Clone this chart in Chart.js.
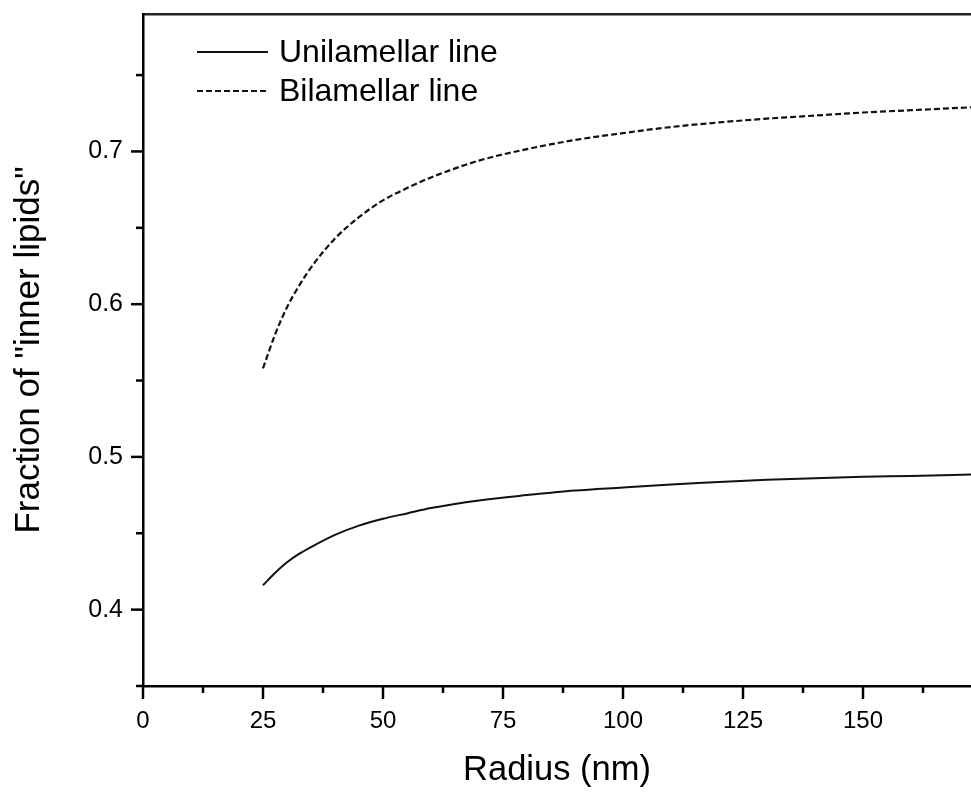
<!DOCTYPE html>
<html>
<head>
<meta charset="utf-8">
<script src="https://cdn.jsdelivr.net/npm/chart.js@4.4.1/dist/chart.umd.min.js"></script>
<style>
  html, body { margin: 0; padding: 0; background: #fff; }
  #wrap { width: 971px; height: 794px; }
</style>
</head>
<body>
<div id="wrap"><canvas id="c" width="971" height="794"></canvas></div>
<script>
// ---- data ----
const radius = [25, 27.5, 30, 32.5, 35, 40, 45, 50, 55, 60, 70, 80, 90, 100, 110, 120, 130, 140, 150, 160, 173];
const unilamellar = [0.416, 0.424, 0.431, 0.4365, 0.441, 0.449, 0.455, 0.4595, 0.463, 0.4665, 0.4715, 0.475, 0.478, 0.480, 0.482, 0.4835, 0.485, 0.486, 0.487, 0.4875, 0.4885];
const bilamellar = [0.558, 0.580, 0.598, 0.612, 0.624, 0.643, 0.657, 0.668, 0.676, 0.683, 0.694, 0.7015, 0.7075, 0.712, 0.716, 0.719, 0.7215, 0.7235, 0.7255, 0.727, 0.729];
const seriesNames = ['Unilamellar line', 'Bilamellar line'];
const xTicks = [0, 12.5, 25, 37.5, 50, 62.5, 75, 87.5, 100, 112.5, 125, 137.5, 150, 162.5];
const yTicks = [0.35, 0.4, 0.45, 0.5, 0.55, 0.6, 0.65, 0.7, 0.75];
const xTitle = 'Radius (nm)';
const yTitle = 'Fraction of "inner lipids"';

const FONT = '"Liberation Sans", Arial, Helvetica, sans-serif';
const isMajorX = v => Math.abs(v % 25) < 1e-6;
const isMajorY = v => Math.round(v * 100) % 10 === 0;

const tickPlugin = {
  id: 'tickMarks',
  afterDatasetsDraw(chart) {
    const ctx = chart.ctx;
    const xs = chart.scales.x, ys = chart.scales.y;
    const area = chart.chartArea;
    ctx.save();
    ctx.strokeStyle = '#000';
    ctx.lineWidth = 2.5;
    ctx.lineCap = 'butt';
    xs.ticks.forEach(t => {
      const px = xs.getPixelForValue(t.value);
      const len = isMajorX(t.value) ? 13 : 7;
      ctx.beginPath();
      ctx.moveTo(px, area.bottom);
      ctx.lineTo(px, area.bottom + len);
      ctx.stroke();
    });
    ys.ticks.forEach(t => {
      const py = ys.getPixelForValue(t.value);
      const len = isMajorY(t.value) ? 12 : 7;
      ctx.beginPath();
      ctx.moveTo(area.left, py);
      ctx.lineTo(area.left - len, py);
      ctx.stroke();
    });
    ctx.restore();
  }
};

const legendPlugin = {
  id: 'insideLegend',
  afterDraw(chart) {
    const ctx = chart.ctx;
    const area = chart.chartArea;
    ctx.save();
    chart.data.datasets.forEach((ds, i) => {
      const y = area.top + 38 + i * 39;
      ctx.strokeStyle = ds.borderColor;
      ctx.lineWidth = 1.8;
      ctx.setLineDash(ds.borderDash || []);
      ctx.beginPath();
      ctx.moveTo(area.left + 54, y);
      ctx.lineTo(area.left + 125, y);
      ctx.stroke();
      ctx.setLineDash([]);
      ctx.fillStyle = '#000';
      ctx.font = '32px ' + FONT;
      ctx.textBaseline = 'middle';
      ctx.textAlign = 'left';
      ctx.fillText(ds.label, area.left + 136, y + 1);
    });
    ctx.restore();
  }
};

new Chart(document.getElementById('c'), {
  type: 'scatter',
  data: {
    datasets: [
      {
        label: seriesNames[0],
        data: radius.map((r, i) => ({ x: r, y: unilamellar[i] })),
        showLine: true,
        borderColor: '#111',
        borderWidth: 2,
        pointRadius: 0,
        cubicInterpolationMode: 'monotone'
      },
      {
        label: seriesNames[1],
        data: radius.map((r, i) => ({ x: r, y: bilamellar[i] })),
        showLine: true,
        borderColor: '#111',
        borderWidth: 2.2,
        borderDash: [6, 3],
        pointRadius: 0,
        cubicInterpolationMode: 'monotone'
      }
    ]
  },
  options: {
    responsive: false,
    animation: false,
    layout: { padding: 0 },
    plugins: { legend: { display: false }, tooltip: { enabled: false } },
    scales: {
      x: {
        type: 'linear',
        position: 'bottom',
        min: 0,
        max: 172.5,
        afterBuildTicks: s => { s.ticks = xTicks.map(v => ({ value: v })); },
        afterFit: s => { s.height = 108; s.paddingLeft = 0; s.paddingRight = 0; },
        grid: { display: false, drawTicks: false },
        border: { display: true, color: '#000', width: 2.5 },
        ticks: {
          autoSkip: false,
          maxRotation: 0,
          padding: 21,
          color: '#000',
          font: { family: FONT, size: 24 },
          callback: v => isMajorX(v) ? String(v) : ''
        },
        title: {
          display: true,
          text: xTitle,
          color: '#000',
          font: { family: FONT, size: 34.5 },
          padding: { top: 0, bottom: 3 }
        }
      },
      x2: {
        type: 'linear',
        position: 'top',
        min: 0,
        max: 172.5,
        afterFit: s => { s.height = 14; s.paddingLeft = 0; s.paddingRight = 0; },
        grid: { display: false, drawTicks: false },
        border: { display: true, color: '#222', width: 2.5 },
        ticks: { display: false }
      },
      y: {
        type: 'linear',
        position: 'left',
        min: 0.35,
        max: 0.79,
        afterBuildTicks: s => { s.ticks = yTicks.map(v => ({ value: v })); },
        afterFit: s => { s.width = 143; s.paddingTop = 0; s.paddingBottom = 0; },
        grid: { display: false, drawTicks: false },
        border: { display: true, color: '#000', width: 2.5 },
        ticks: {
          autoSkip: false,
          padding: 20,
          color: '#000',
          font: { family: FONT, size: 25 },
          callback: v => isMajorY(v) ? v.toFixed(1) : ''
        },
        title: {
          display: true,
          text: yTitle,
          color: '#000',
          font: { family: FONT, size: 35 },
          padding: { top: 8, bottom: 0 }
        }
      }
    }
  },
  plugins: [tickPlugin, legendPlugin]
});
</script>
</body>
</html>
